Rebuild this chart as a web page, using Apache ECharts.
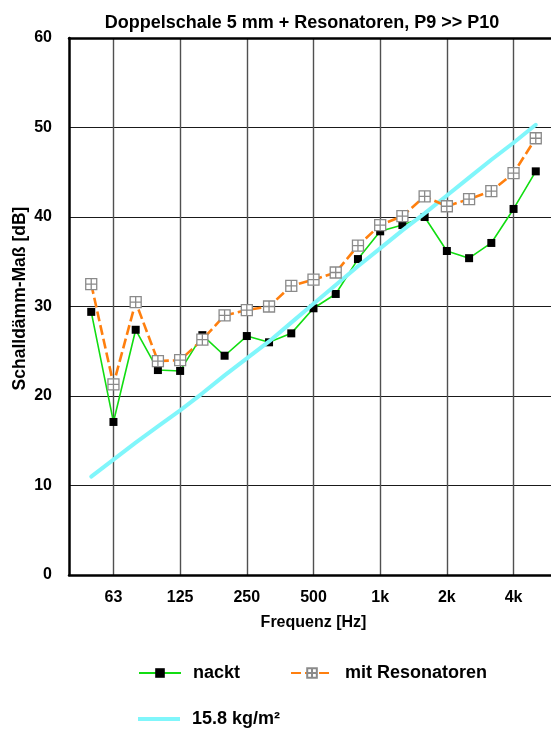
<!DOCTYPE html>
<html>
<head>
<meta charset="utf-8">
<style>
  html, body { margin: 0; padding: 0; background: #fff; overflow: hidden; }
  #chart { width: 551px; height: 731px; }
</style>
<script src="https://cdn.jsdelivr.net/npm/echarts@6/dist/echarts.min.js"></script>
</head>
<body>
<div id="chart"></div>
<script>
// Third-octave band axis (40 Hz and 6300 Hz only pad the plot edges)
const bands = ['40','50','63','80','100','125','160','200','250','315','400','500',
               '630','800','1000','1250','1600','2000','2500','3150','4000','5000','6300'];
const labeledBands = ['63','125','250','500','1000','2000','4000'];
const bandLabels   = ['63','125','250','500','1k','2k','4k'];

// Measured bands 50 Hz ... 5000 Hz
const measBands = ['50','63','80','100','125','160','200','250','315','400','500',
                   '630','800','1000','1250','1600','2000','2500','3150','4000','5000'];

const nackt = [29.4, 17.1, 27.4, 22.9, 22.8, 26.8, 24.5, 26.7, 26.0, 27.0, 29.8,
               31.4, 35.3, 38.4, 39.1, 40.0, 36.2, 35.4, 37.1, 40.9, 45.1];

const mitResonatoren = [32.5, 21.3, 30.5, 23.9, 24.0, 26.3, 29.0, 29.6, 30.0, 32.3, 33.0,
                        33.8, 36.8, 39.1, 40.1, 42.3, 41.2, 42.0, 42.9, 44.9, 48.8];

const massLaw = [11.0, 12.9, 14.8, 16.6, 18.4, 20.3, 22.3, 24.2, 26.1, 28.2, 30.3,
                 32.4, 34.5, 36.5, 38.5, 40.4, 42.4, 44.4, 46.4, 48.3, 50.3];

const yTicks = { min: 0, max: 60, step: 10 };

const FONT = '"Liberation Sans", Arial, sans-serif';
const pairs = (vals) => measBands.map((b, i) => [b, vals[i]]);

// Square with a cross inside
const crossBox = 'path://M0,0 H10 V10 H0 Z M5,0 V10 M0,5 H10';

const legendText = { fontFamily: FONT, fontWeight: 'bold', fontSize: 18, color: '#000', padding: [0, 0, 0, 7] };

const chart = echarts.init(document.getElementById('chart'), null, { renderer: 'canvas' });

chart.setOption({
  animation: false,
  backgroundColor: '#fff',
  title: {
    text: 'Doppelschale 5 mm + Resonatoren, P9 >> P10',
    left: 297, textAlign: 'center', top: 9,
    textStyle: { fontFamily: FONT, fontWeight: 'bold', fontSize: 18, color: '#000' }
  },
  // the plot runs past the right edge of the canvas up to the 6300 Hz slot
  grid: { left: 69, top: 38, width: 489, height: 537, show: false, outerBoundsMode: 'none' },
  legend: [
    {
      data: ['nackt', 'mit Resonatoren'],
      left: 138, top: 664, padding: 0, orient: 'horizontal',
      itemWidth: 42, itemHeight: 12, itemGap: 50,
      textStyle: legendText
    },
    {
      data: [{ name: '15.8 kg/m²', icon: 'rect' }],
      left: 138, top: 710, padding: 0,
      itemWidth: 42, itemHeight: 4,
      textStyle: legendText
    }
  ],
  xAxis: [
    {
      type: 'category',
      data: bands,
      boundaryGap: false,
      name: 'Frequenz [Hz]',
      nameLocation: 'middle',
      nameGap: 40,
      nameTextStyle: { fontFamily: FONT, fontWeight: 'bold', fontSize: 16, color: '#000' },
      axisLine: { show: true, lineStyle: { color: '#000', width: 2.5 } },
      axisTick: { show: false },
      axisLabel: {
        interval: (idx, val) => labeledBands.includes(val),
        formatter: (val) => bandLabels[labeledBands.indexOf(val)],
        margin: 15,
        fontFamily: FONT, fontWeight: 'bold', fontSize: 16, color: '#000'
      },
      splitLine: {
        show: true,
        interval: (idx, val) => labeledBands.includes(val),
        lineStyle: { color: '#505050', width: 1.4 }
      }
    },
    {
      // top frame line of the plot area
      type: 'category',
      data: bands,
      boundaryGap: false,
      position: 'top',
      axisLine: { show: true, lineStyle: { color: '#000', width: 2.5 } },
      axisTick: { show: false },
      axisLabel: { show: false },
      splitLine: { show: false }
    }
  ],
  yAxis: {
    type: 'value',
    min: yTicks.min, max: yTicks.max, interval: yTicks.step,
    name: 'Schalldämm-Maß [dB]',
    nameLocation: 'middle',
    nameGap: 40,
    nameMoveOverlap: false,
    nameTextStyle: { fontFamily: FONT, fontWeight: 'bold', fontSize: 17.5, color: '#000', padding: [0, 0, 0, 16] },
    axisLine: { show: true, lineStyle: { color: '#000', width: 2.5 } },
    axisTick: { show: false },
    axisLabel: { margin: 17, fontFamily: FONT, fontWeight: 'bold', fontSize: 16, color: '#000' },
    splitLine: { show: true, lineStyle: { color: '#1a1a1a', width: 1 } }
  },
  series: [
    {
      name: 'nackt',
      type: 'line',
      data: pairs(nackt),
      z: 2,
      symbol: 'rect',
      symbolSize: 8,
      lineStyle: { color: '#11dd11', width: 1.6 },
      itemStyle: { color: '#000', borderWidth: 0 }
    },
    {
      name: '15.8 kg/m²',
      type: 'line',
      data: pairs(massLaw),
      z: 3,
      symbol: 'none',
      showSymbol: false,
      lineStyle: { color: '#80f6fb', width: 4, cap: 'round' },
      itemStyle: { color: '#80f6fb' }
    },
    {
      name: 'mit Resonatoren',
      type: 'line',
      data: pairs(mitResonatoren),
      z: 4,
      symbol: crossBox,
      symbolSize: 11,
      lineStyle: { color: '#ff7f0e', width: 2.6, type: [10, 4] },
      itemStyle: { color: '#fff', borderColor: '#8a8a8a', borderWidth: 1.3 }
    }
  ]
});
</script>
</body>
</html>
